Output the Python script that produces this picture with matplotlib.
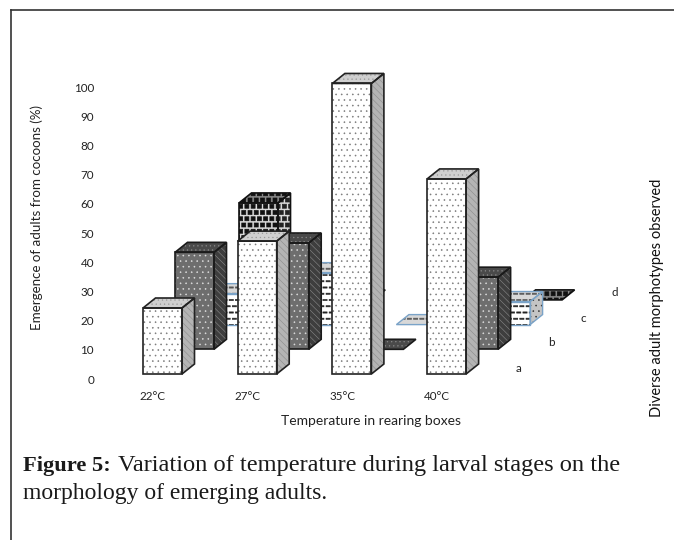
import numpy as np
import matplotlib
matplotlib.use("Agg")
import matplotlib.pyplot as plt
from matplotlib.patches import Polygon
from matplotlib.path import Path
import matplotlib.hatch as mhatch

categories = ["22°C", "27°C", "35°C", "40°C"]
series_names = ["a", "b", "c", "d"]
series_a = [22.6, 45.5, 99.5, 66.8]
series_b = [33.2, 36.4, 0, 24.7]
series_c = [10.6, 17.8, 0, 7.9]
series_d = [33.2, 0, 0, 0]
y_ticks = list(range(0, 101, 10))


class _Rect(mhatch.Shapes):
    filled = True
    char = "?"
    half_w = half_h = 0.5
    rows = 18

    def __init__(self, hatch, density):
        self.num_rows = self.rows if self.char in hatch else 0
        self.size = 1.0
        self.shape_vertices = np.array([(-self.half_w, -self.half_h), (self.half_w, -self.half_h),
                                        (self.half_w, self.half_h), (-self.half_w, self.half_h),
                                        (-self.half_w, -self.half_h)])
        self.shape_codes = np.array([Path.MOVETO, Path.LINETO, Path.LINETO, Path.LINETO, Path.CLOSEPOLY],
                                    dtype=Path.code_type)
        super().__init__(hatch, density)


class DashHatch(_Rect):
    char = "_"
    half_w, half_h = 0.34, 0.1
    rows = 16


class SquareHatch(_Rect):
    char = "s"
    half_w, half_h = 0.32, 0.32
    rows = 16


mhatch._hatch_types.extend([DashHatch, SquareHatch])

W, H = 674, 540
PX_CAT = 94.7      # pixels per category
PX_VAL = 2.92      # pixels per value unit
X0_PX, Y0_PX = 143, 374
BAR_W = 39 / PX_CAT
DEPTH_X = 12.5 / PX_CAT
DEPTH_Y = 10 / PX_VAL
SHIFT_X = 32 / PX_CAT
SHIFT_Y = 24.7 / PX_VAL

styles = {
    "a": dict(front="#ffffff", side="#b4b4b4", top="#cfcfcf", edge="#222222", fh="...", sh="\\\\\\\\\\", th="....",
              fhc="#7a7a7a", shc="#8a8a8a", thc="#999999", lw=0.4, elw=1.2),
    "b": dict(front="#6e6e6e", side="#3e3e3e", top="#4a4a4a", edge="#1a1a1a", fh="...", sh="\\\\\\\\\\", th="....",
              fhc="#dddddd", shc="#8a8a8a", thc="#888888", lw=0.4, elw=1.2),
    "c": dict(front="#ffffff", side="#c4c4c4", top="#d8d8d8", edge="#7aa3c8", fh="_", sh="...", th="_",
              fhc="#222222", shc="#333333", thc="#555555", lw=0.4, elw=1.0),
    "d": dict(front="#d8d8d8", side="#d8d8d8", top="#8a8a8a", edge="#111111", fh="s", sh="s", th="s",
              fhc="#111111", shc="#222222", thc="#111111", lw=0.5, elw=1.2),
}

fig = plt.figure(figsize=(W / 100, H / 100), dpi=100, facecolor="white")
ax = fig.add_axes([0, 0, 1, 1])
ax.set_xlim(-X0_PX / PX_CAT, (W - X0_PX) / PX_CAT)
ax.set_ylim((Y0_PX - H) / PX_VAL, Y0_PX / PX_VAL)
ax.axis("off")


def face(points, fc, hatch, hc, edge, lw, elw, z):
    plt.rcParams["hatch.linewidth"] = lw
    ax.add_patch(Polygon(points, closed=True, facecolor=fc, edgecolor=hc, hatch=hatch, linewidth=0, zorder=z))
    ax.add_patch(Polygon(points, closed=True, facecolor="none", edgecolor=edge, linewidth=elw, zorder=z + 0.01))


def bar3d(cat, s_idx, value, st, z):
    x = cat + s_idx * SHIFT_X
    b = s_idx * SHIFT_Y
    t = b + value
    w, dx, dy = BAR_W, DEPTH_X, DEPTH_Y
    if value > 0:
        face([(x, b), (x + w, b), (x + w, t), (x, t)], st["front"], st["fh"], st["fhc"], st["edge"], st["lw"], st["elw"], z)
        face([(x + w, b), (x + w + dx, b + dy), (x + w + dx, t + dy), (x + w, t)],
             st["side"], st["sh"], st["shc"], st["edge"], st["lw"], st["elw"], z)
    face([(x, t), (x + w, t), (x + w + dx, t + dy), (x + dx, t + dy)],
         st["top"], st["th"], st["thc"], st["edge"], st["lw"], st["elw"], z)


all_series = [series_a, series_b, series_c, series_d]
for s_idx in range(3, -1, -1):
    name = series_names[s_idx]
    for cat, value in enumerate(all_series[s_idx]):
        bar3d(cat, s_idx, value, styles[name], 10 - 2 * s_idx + cat * 0.1)

chart_font = dict(family="Lato", color="#222222")
for tick in y_ticks:
    ax.text(-49 / PX_CAT, tick - 6 / PX_VAL, str(tick), ha="right", va="center", fontsize=8.4, **chart_font)
for i, lab in enumerate(categories):
    ax.text(i + 10 / PX_CAT, -22 / PX_VAL, lab, ha="center", va="center", fontsize=8.4, **chart_font)
for s_idx, name in enumerate(series_names):
    ax.text((519 - X0_PX) / PX_CAT + s_idx * 32 / PX_CAT, (374 - 368) / PX_VAL + s_idx * 25 / PX_VAL,
            name, ha="center", va="center", fontsize=8.4, **chart_font)


def px(x, y):
    return x / W, 1 - y / H


fig.text(*px(371, 421), "Temperature in rearing boxes", ha="center", va="center", fontsize=10, **chart_font)
fig.text(*px(37, 218), "Emergence of adults from cocoons (%)", rotation=90, ha="center", va="center", fontsize=9.6, **chart_font)
fig.text(*px(657, 298), "Diverse adult morphotypes observed", rotation=90, ha="center", va="center", fontsize=10.5,
         family="Lato", color="#111111")

cap = dict(family="Liberation Serif", color="#1a1a1a", va="center", ha="left")
t1 = fig.text(*px(23, 466), "Figure 5:", fontweight="bold", fontsize=16.2, **cap)
fig.canvas.draw()
bb = t1.get_window_extent()
fig.text(bb.x1 / W + 7 / W, 1 - 466 / H, "Variation of temperature during larval stages on the", fontsize=17.6, **cap)
fig.text(*px(23, 494), "morphology of emerging adults.", fontsize=17.0, **cap)

# outer frame: left and top only
for seg in (((10.5, 10), (10.5, 540)), ((10.5, 10), (674, 10))):
    fig.add_artist(plt.Line2D([px(*seg[0])[0], px(*seg[1])[0]], [px(*seg[0])[1], px(*seg[1])[1]],
                              color="#333333", linewidth=1.2))

fig.savefig("out.png", dpi=100)
